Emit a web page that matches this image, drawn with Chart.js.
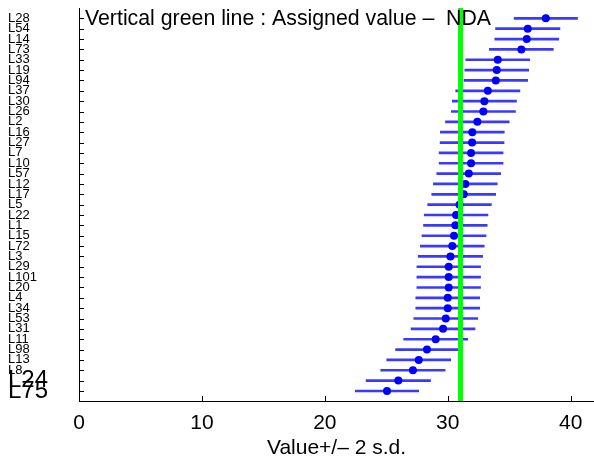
<!DOCTYPE html>
<html><head><meta charset="utf-8">
<script src="https://cdn.jsdelivr.net/npm/chart.js@4.4.0/dist/chart.umd.min.js"></script>
<style>html,body{margin:0;padding:0;background:#fff}</style>
</head><body>
<canvas id="c" width="594" height="460"></canvas>
<script>
const labs = ['L28','L54','L14','L73','L33','L19','L94','L37','L30','L26','L2','L16','L27','L7','L10','L57','L12','L17','L5','L22','L1','L15','L72','L3','L29','L101','L20','L4','L34','L53','L31','L11','L98','L13','L8','L24','L75'];
const values = [37.98,36.51,36.43,35.99,34.07,33.99,33.91,33.26,32.98,32.90,32.41,32.00,31.98,31.90,31.90,31.71,31.43,31.30,30.96,30.68,30.62,30.51,30.37,30.22,30.08,30.08,30.08,30.00,30.00,29.84,29.62,29.02,28.31,27.64,27.17,25.98,25.06];
const twoSd = [2.58,2.62,2.60,2.60,2.60,2.60,2.59,2.61,2.61,2.61,2.59,2.60,2.60,2.60,2.60,2.60,2.60,2.60,2.59,2.59,2.59,2.61,2.60,2.62,2.59,2.59,2.59,2.60,2.60,2.60,2.60,2.60,2.55,2.60,2.62,2.62,2.58];
const assigned = [31.04];
const xTickValues = [0,10,20,30,40];
const bigLabels = ['L24','L75'];
const titleText = 'Vertical green line : Assigned value \u2013  NDA';
const xTitle = 'Value+/\u2013 2 s.d.';

const FONT = '"Liberation Sans", Arial, sans-serif';
const yMin = -1.0, yMax = 36.97;

const pts = values.map((v,i)=>({x:v, y:i}));
const bars = values.map((v,i)=>({x:[v - twoSd[i], v + twoSd[i]], y:i}));
const green = [{x:assigned[0], y:yMin}, {x:assigned[0], y:yMax}];

const zeroPad = s => { s.paddingLeft = 0; s.paddingRight = 0; s.paddingTop = 0; s.paddingBottom = 0; };

const decor = {
  id:'decor',
  afterLayout(chart){
    const x = chart.scales.x, a = chart.chartArea;
    if (x.right < chart.width) {
      x.right = chart.width;
      x.width = x.right - x.left;
      x.configure();
      a.right = chart.width;
      a.width = a.right - a.left;
    }
  },
  afterDraw(chart){
    const {ctx, chartArea:a, scales:{x, y}} = chart;
    ctx.save();
    ctx.strokeStyle = '#000';
    ctx.lineWidth = 1;
    ctx.beginPath();
    x.ticks.forEach(t=>{
      const px = Math.round(x.getPixelForValue(t.value)) + 0.5;
      ctx.moveTo(px, a.bottom); ctx.lineTo(px, a.bottom - 5);
    });
    labs.forEach((l,i)=>{
      const py = Math.round(y.getPixelForValue(i)) + 0.5;
      ctx.moveTo(a.left, py); ctx.lineTo(a.left + 5, py);
    });
    ctx.stroke();
    ctx.fillStyle = '#000';
    ctx.font = '21.3px ' + FONT;
    ctx.textBaseline = 'alphabetic';
    ctx.textAlign = 'left';
    ctx.fillText(titleText, a.left + 6, 25);
    ctx.restore();
  }
};

new Chart(document.getElementById('c'), {
  type: 'bar',
  data: {
    datasets: [
      {type:'line', data: green, borderColor:'#00ff00', borderWidth:5, pointRadius:0, order:0},
      {type:'line', data: pts, showLine:false, pointRadius:4, pointBackgroundColor:'#0000ff', pointBorderColor:'#0000ff', pointBorderWidth:0, order:1},
      {type:'bar', data: bars, backgroundColor:'#3a3aff', borderWidth:0, barThickness:2, order:2}
    ]
  },
  options: {
    indexAxis: 'y',
    responsive: false,
    animation: false,
    devicePixelRatio: 1,
    layout: {padding: {left: 8, top: 8, right: 0, bottom: 0}},
    plugins: {legend:{display:false}, tooltip:{enabled:false}, title:{display:false}},
    events: [],
    scales: {
      x: {
        type: 'linear', position: 'bottom', min: 0, max: 41.9, offset: false,
        grid: {display:false, drawTicks:false, offset:false},
        border: {display:true, color:'#000', width:1},
        afterBuildTicks: s => { s.ticks = xTickValues.map(v=>({value:v})); },
        afterFit: s => { s.height = 59; zeroPad(s); },
        ticks: {font:{family:FONT, size:21}, color:'#000', padding:10, autoSkip:false, maxRotation:0, includeBounds:false},
        title: {display:true, text:xTitle, color:'#000', font:{family:FONT, size:21, lineHeight:1}, padding:{top:4, bottom:1}}
      },
      y: {
        type: 'linear', position: 'left', reverse: true, min: yMin, max: yMax, offset: false,
        grid: {display:false, drawTicks:false, offset:false},
        border: {display:true, color:'#000', width:1},
        afterBuildTicks: s => { s.ticks = labs.map((_,i)=>({value:i})); },
        afterFit: s => { s.width = 71; zeroPad(s); },
        ticks: {
          autoSkip:false, padding:0, crossAlign:'far', color:'#000',
          callback: v => labs[v],
          font: c => ({family:FONT, size: bigLabels.includes(labs[c.index]) ? 24 : 13, lineHeight:0.5})
        }
      }
    }
  },
  plugins: [decor]
});
</script>
</body></html>
